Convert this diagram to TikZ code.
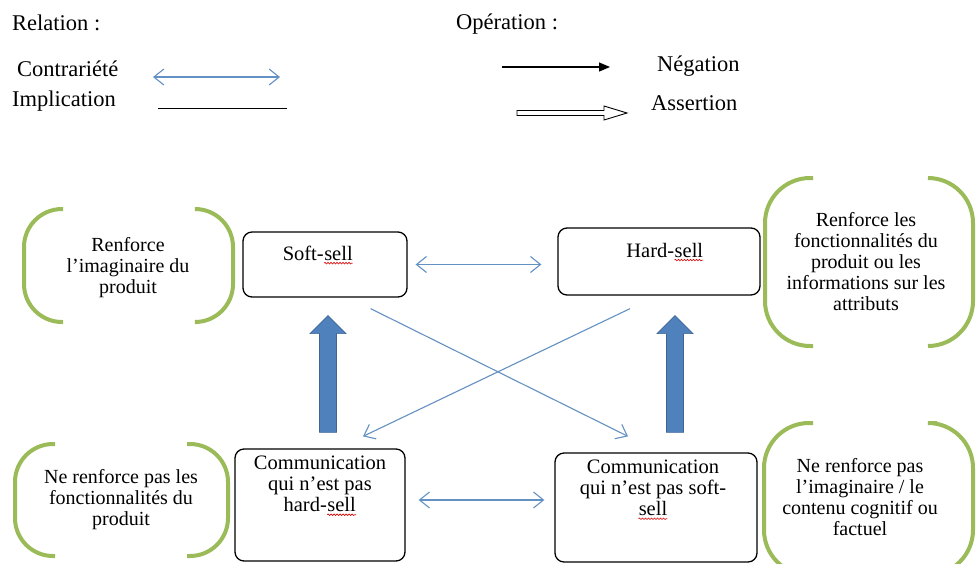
\documentclass[tikz,border=0pt]{standalone}
\usepackage{fontspec}
\setmainfont{Liberation Serif}
\newfontfamily\tmsfont{Liberation Serif}
\usetikzlibrary{arrows.meta,calc,decorations.pathmorphing}
\definecolor{lblue}{RGB}{100,145,195}
\definecolor{tblue}{RGB}{79,129,189}
\definecolor{tblued}{RGB}{60,100,150}
\definecolor{bgreen}{RGB}{155,187,89}
\newcommand\wavy[1]{\tikz[baseline=(w.base)]{\node[inner sep=0pt](w){#1};\draw[red!85!black,line width=0.6pt,decorate,decoration={snake,amplitude=0.8pt,segment length=3pt}] ([yshift=-3pt]w.base west) -- ([yshift=-3pt]w.base east);}}
\newcommand\bracketpair[7]{%
  \draw[brk,rounded corners=#7pt] (#2,#5) -- (#1,#5) -- (#1,#6) -- (#2,#6);
  \draw[brk,rounded corners=#7pt] (#3,#5) -- (#4,#5) -- (#4,#6) -- (#3,#6);}
\newcommand\thickup[2]{\path[fatarrow] let \p1=(#1), \p2=(#2) in
  (\x1-8.5pt,\y1) -- (\x1-8.5pt,\y2-18pt) -- (\x1-18pt,\y2-18pt) -- (\x1,\y2) --
  (\x1+18pt,\y2-18pt) -- (\x1+8.5pt,\y2-18pt) -- (\x1+8.5pt,\y1) -- cycle;}
\begin{document}
\begin{tikzpicture}[x=1pt,y=-1pt,
  legend/.style={font=\tmsfont\fontsize{22.5}{24}\selectfont,inner sep=0pt,anchor=west},
  box/.style={draw,line width=1.3pt,rounded corners=9pt,inner sep=0pt},
  boxtxt/.style={font=\tmsfont\fontsize{20.5}{21}\selectfont,align=center,inner sep=0pt},
  bubtxt/.style={font=\tmsfont\fontsize{20}{21}\selectfont,align=center,inner sep=0pt},
  brk/.style={draw=bgreen,line width=4pt},
  contra/.style={draw=lblue,line width=1.1pt,{Straight Barb[length=10pt,width=16pt]}-{Straight Barb[length=10pt,width=16pt]}},
  neg/.style={draw=lblue,line width=1.1pt,-{Straight Barb[length=10pt,width=16pt]}},
  fatarrow/.style={fill=tblue,draw=tblued,line width=0.6pt}]
\useasboundingbox (0,0) rectangle (977,563);
\fill[white] (0,0) rectangle (977,563);

% legend
\node[legend] (rel) at (12,23) {Relation :};
\node[legend] (contr) at (17,69) {Contrariété};
\coordinate (c1) at (153,77); \coordinate (c2) at (280,77);
\draw[contra] (c1) -- (c2);
\node[legend] (impl) at (12,101) {Implication};
\coordinate (i1) at (158,108); \coordinate (i2) at (287,108);
\draw[line width=1pt] (i1) -- (i2);
\node[legend] (oper) at (456,24) {Opération :};
\coordinate (n1) at (502,67); \coordinate (n2) at (610,67);
\draw[line width=1.2pt,-{Triangle[length=11pt,width=9pt]}] (n1) -- (n2);
\node[legend] (nega) at (657,66) {Négation};
\node[legend] (asse) at (651,103) {Assertion};
\draw[line width=0.9pt,fill=white] (517,110.5) -- (604,110.5) -- (604,106) -- (627,113) -- (604,120) -- (604,115.5) -- (517,115.5) -- cycle;

% boxes
\node[box,minimum width=164pt,minimum height=65pt] (soft) at (325,264.5) {};
\node[boxtxt] (softt) at (318,255) {Soft-\wavy{sell}};
\node[box,minimum width=202pt,minimum height=67pt] (hard) at (659,261.5) {};
\node[boxtxt] (hardt) at (665,252) {Hard-\wavy{sell}};
\node[box,minimum width=170pt,minimum height=112pt] (nch) at (320,505) {};
\node[boxtxt] (ncht) at (320,486) {Communication\\qui n’est pas\\hard-\wavy{sell}};
\node[box,minimum width=202pt,minimum height=109pt] (ncs) at (656,507.5) {};
\node[boxtxt] (ncst) at (653,490) {Communication\\qui n’est pas soft-\\\wavy{sell}};

% bubbles
\node[bubtxt] (btl) at (128,268) {Renforce\\l’imaginaire du\\produit};
\bracketpair{24}{63}{197}{233}{209}{322}{38}
\node[bubtxt] (btr) at (866,262) {Renforce les\\fonctionnalités du\\produit ou les\\informations sur les\\attributs};
\bracketpair{765}{813}{928}{973}{178}{346}{45}
\node[bubtxt] (bbl) at (121,500) {Ne renforce pas les\\fonctionnalités du\\produit};
\bracketpair{15}{55}{187}{228}{444}{556}{38}
\node[bubtxt] (bbr) at (860,497) {Ne renforce pas\\l’imaginaire / le\\contenu cognitif ou\\factuel};
\bracketpair{764}{813}{937}{973}{423}{575}{45}

% contrariety arrows
\draw[contra] ($(soft.east)+(8,0)$) -- ($(soft.east -| hard.west)+(-16,0)$);
\draw[contra] ($(nch.east)+(13,-5)$) -- ($(nch.east -| ncs.west)+(-10,-5)$);

% negation (cross) arrows
\draw[neg] ($(soft.south east)+(-37,11)$) -- ($(ncs.north)+(-28,-16)$);
\draw[neg] ($(hard.south)+(-29,13)$) -- ($(nch.north)+(43,-12)$);

% assertion (thick) arrows
\coordinate (a1s) at ($(nch.north)+(8,-16)$);
\coordinate (a1e) at ($(soft.south)+(3,18)$);
\thickup{a1s}{a1e}
\coordinate (a2s) at ($(ncs.north)+(19,-20)$);
\coordinate (a2e) at ($(hard.south)+(16,20)$);
\thickup{a2s}{a2e}
\end{tikzpicture}
\end{document}
